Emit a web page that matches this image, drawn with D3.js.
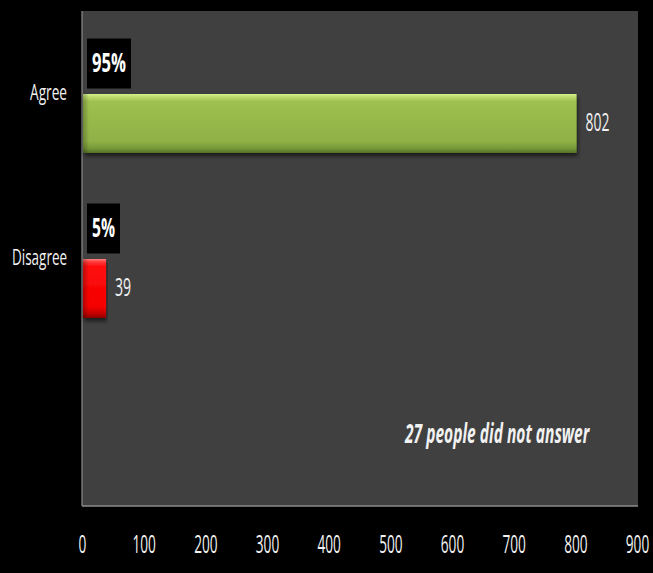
<!DOCTYPE html>
<html>
<head>
<meta charset="utf-8">
<script src="https://cdn.jsdelivr.net/npm/d3@7"></script>
<style>
  html, body { margin: 0; padding: 0; background: #000; }
  svg { display: block; }
  text { font-family: "Open Sans", "DejaVu Sans Condensed", sans-serif; fill: #f2f2f2; }
</style>
</head>
<body>
<svg id="chart" width="653" height="573"></svg>
<script>
// Survey answers
const categories = ["Agree", "Disagree"];
const counts = [802, 39];
const barColors = ["green", "red"];
const xTicks = [0, 100, 200, 300, 400, 500, 600, 700, 800, 900];
const note = "27 people did not answer";

const plot = { left: 82, top: 11, right: 638, bottom: 506 };

const svg = d3.select("#chart");
const defs = svg.append("defs");

// Squeeze a text horizontally around its anchor so it spans `w` pixels
function squeeze(sel, w, tx, ty) {
  sel.each(function(d, i) {
    const node = this;
    const bw = node.getBBox().width || 1;
    const target = typeof w === "function" ? w(d, i, node) : w;
    const X = typeof tx === "function" ? tx(d, i) : tx;
    const Y = typeof ty === "function" ? ty(d, i) : ty;
    d3.select(node).attr("transform", `translate(${X},${Y}) scale(${target / bw},1)`);
  });
}

// Bevelled fills for the bars
const fills = {
  green: [["0%", "#d6f08e"], ["5%", "#bcdb6c"], ["13%", "#9ec050"], ["80%", "#8fb145"], ["92%", "#78993a"], ["100%", "#56702a"]],
  red:   [["0%", "#ff8080"], ["5%", "#ff3a3a"], ["13%", "#ff0d0d"], ["80%", "#f50000"], ["92%", "#c80000"], ["100%", "#8a0000"]]
};
Object.entries(fills).forEach(([name, stops]) => {
  const g = defs.append("linearGradient").attr("id", "fill-" + name)
    .attr("x1", 0).attr("y1", 0).attr("x2", 0).attr("y2", 1);
  stops.forEach(([o, c]) => g.append("stop").attr("offset", o).attr("stop-color", c));
});
const edge = defs.append("linearGradient").attr("id", "edge")
  .attr("x1", 0).attr("y1", 0).attr("x2", 1).attr("y2", 0);
edge.append("stop").attr("offset", "0").attr("stop-color", "#000").attr("stop-opacity", 0.25);
edge.append("stop").attr("offset", "1").attr("stop-color", "#000").attr("stop-opacity", 0);

const shadow = defs.append("filter").attr("id", "shadow")
  .attr("x", "-5%").attr("y", "-20%").attr("width", "110%").attr("height", "150%");
shadow.append("feDropShadow").attr("dx", 1).attr("dy", 3).attr("stdDeviation", 2)
  .attr("flood-color", "#000").attr("flood-opacity", 0.6);

// Scales
const x = d3.scaleLinear().domain([0, 900]).range([plot.left, plot.left + 555]);
const y = d3.scaleBand().domain([...categories, ""]).range([plot.top, plot.bottom]);
const barH = 59;
const total = d3.sum(counts);
const pct = d3.format(".0%");
const digitW = 7.8;

// Plot background
svg.append("rect")
  .attr("x", plot.left).attr("y", plot.top)
  .attr("width", plot.right - plot.left).attr("height", plot.bottom - plot.top)
  .attr("fill", "#404040");

// Axis lines
svg.append("line").attr("x1", plot.left).attr("x2", plot.left)
  .attr("y1", plot.top).attr("y2", plot.bottom).attr("stroke", "#8c8c8c").attr("stroke-width", 1.2);
svg.append("line").attr("x1", plot.left).attr("x2", plot.right)
  .attr("y1", plot.bottom).attr("y2", plot.bottom).attr("stroke", "#8c8c8c").attr("stroke-width", 1.5);

// Bottom axis labels
const xAxis = d3.axisBottom(x).tickValues(xTicks).tickSize(0).tickPadding(0).tickFormat(d3.format("d"));
const gx = svg.append("g").attr("transform", `translate(0,${plot.bottom})`).call(xAxis);
gx.select(".domain").remove();
gx.selectAll("text")
  .attr("y", 0).attr("dy", "0.36em")
  .attr("font-size", 25)
  .style("fill", "#f2f2f2")
  .call(squeeze, d => String(d).length * digitW, 0, 38);

// Category labels
const catW = { Agree: 37, Disagree: 55 };
svg.selectAll(".cat").data(categories).join("text")
  .attr("class", "cat")
  .attr("text-anchor", "end").attr("dominant-baseline", "middle")
  .attr("font-size", 21)
  .text(d => d)
  .call(squeeze, d => catW[d], 67, d => y(d) + y.bandwidth() / 2 + 1);

const rows = categories.map((c, i) => ({ c, v: counts[i], color: barColors[i] }));
const barTop = d => y(d.c) + y.bandwidth() / 2 + 0.5;

// Bars
const bars = svg.selectAll(".bar").data(rows).join("g").attr("class", "bar");
bars.append("rect")
  .attr("x", x(0) + 1).attr("y", barTop)
  .attr("width", d => x(d.v) - x(0) - 1).attr("height", barH)
  .attr("fill", d => `url(#fill-${d.color})`)
  .attr("filter", "url(#shadow)");
bars.append("rect")
  .attr("x", x(0) + 1).attr("y", barTop)
  .attr("width", 6).attr("height", barH)
  .attr("fill", "url(#edge)");

// Value labels
svg.selectAll(".val").data(rows).join("text")
  .attr("class", "val")
  .attr("dominant-baseline", "middle")
  .attr("font-size", 25)
  .text(d => d.v)
  .call(squeeze, d => String(d.v).length * digitW + 0.5, d => x(d.v) + 9, d => barTop(d) + barH / 2 + 1);

// Percentage tags above the bars
const tags = svg.selectAll(".tag").data(rows).join("g").attr("class", "tag");
tags.each(function(d) {
  const g = d3.select(this);
  const boxBottom = y(d.c) + y.bandwidth() / 2 - 5;
  const label = pct(d.v / total);
  const w = label.length === 3 ? 34 : 23;
  g.append("text")
    .attr("dominant-baseline", "middle")
    .attr("font-size", 27).attr("font-weight", "bold")
    .style("fill", "#ffffff")
    .text(label)
    .call(squeeze, w, 92, boxBottom - 24);
  g.insert("rect", "text")
    .attr("x", 87).attr("y", boxBottom - 50)
    .attr("width", w + 10).attr("height", 50)
    .attr("fill", "#000");
});

// Note
svg.append("text")
  .attr("font-size", 27).attr("font-weight", "bold").attr("font-style", "italic")
  .text(note)
  .call(squeeze, 186, 405, 443);
</script>
</body>
</html>
